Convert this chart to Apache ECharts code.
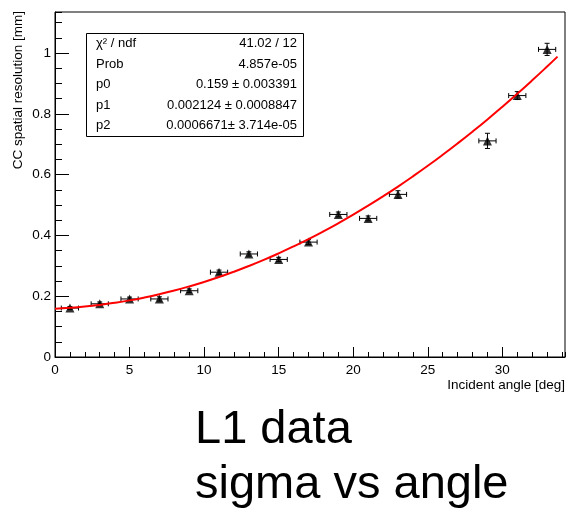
<!DOCTYPE html>
<html>
<head>
<meta charset="utf-8">
<script src="https://cdn.jsdelivr.net/npm/echarts@6/dist/echarts.min.js"></script>
<style>html,body{margin:0;padding:0;background:#fff;}#c{width:569px;height:514px;}</style>
</head>
<body>
<div id="c"></div>
<script>
// Data
var angles = [1, 3, 5, 7, 9, 11, 13, 15, 17, 19, 21, 23, 29, 31, 33];
var sigma = [0.161, 0.175, 0.191, 0.191, 0.218, 0.279, 0.339, 0.321, 0.378, 0.469, 0.456, 0.535, 0.711, 0.860, 1.012];
var angleErr = [0.577, 0.577, 0.577, 0.577, 0.577, 0.577, 0.577, 0.577, 0.577, 0.577, 0.577, 0.577, 0.577, 0.577, 0.577];
var sigmaErr = [0.005, 0.006, 0.006, 0.007, 0.006, 0.007, 0.007, 0.007, 0.008, 0.008, 0.008, 0.012, 0.025, 0.013, 0.020];

// Fit curve, sampled along the red line in the picture
var fitX = [0, 1, 2, 3, 4, 5, 6, 7, 8, 9, 10, 11, 12, 13, 14, 15, 16, 17, 18, 19, 20, 21, 22, 23, 24, 25, 26, 27, 28, 29, 30, 31, 32, 33, 33.7];
var fitY = [0.1590, 0.1618, 0.1659, 0.1714, 0.1782, 0.1863, 0.1958, 0.2066, 0.2187, 0.2322, 0.2470, 0.2631, 0.2806, 0.2994, 0.3195, 0.3410, 0.3638, 0.3879, 0.4134, 0.4402, 0.4683, 0.4978, 0.5286, 0.5607, 0.5942, 0.6290, 0.6652, 0.7027, 0.7415, 0.7816, 0.8231, 0.8659, 0.9101, 0.9556, 0.9882];

// Stats box text
var statNames = ['\u03c7\u00b2 / ndf', 'Prob', 'p0', 'p1', 'p2'];
var statValues = ['41.02 / 12', '4.857e-05', '0.159 \u00b1 0.003391', '0.002124 \u00b1 0.0008847', '0.0006671\u00b1 3.714e-05'];

var xTitle = 'Incident angle [deg]';
var yTitle = 'CC spatial resolution [mm]';
var caption = ['L1 data', 'sigma vs angle'];

var FONT = '"Liberation Sans", Arial, Helvetica, sans-serif';

var points = angles.map(function (a, i) { return [a, sigma[i]]; });
var errData = angles.map(function (a, i) { return [a, sigma[i], angleErr[i], sigmaErr[i]]; });
var fitData = fitX.map(function (x, i) { return [x, fitY[i]]; });

var chart = echarts.init(document.getElementById('c'), null, { renderer: 'canvas' });

var graphics = [];
// Stats box
var boxL = 86, boxT = 33, boxR = 303, boxB = 136;
graphics.push({
  type: 'rect', shape: { x: boxL + 0.5, y: boxT + 0.5, width: boxR - boxL, height: boxB - boxT },
  style: { fill: '#fff', stroke: '#000', lineWidth: 1 }, z: 100
});
var rowY = [43.5, 64, 84.5, 105, 125.5];
statNames.forEach(function (n, i) {
  graphics.push({ type: 'text', x: boxL + 10, y: rowY[i], z: 101,
    style: { text: n, font: '13px ' + FONT, fill: '#000', align: 'left', verticalAlign: 'middle' } });
  graphics.push({ type: 'text', x: boxR - 6, y: rowY[i], z: 101,
    style: { text: statValues[i], font: '13px ' + FONT, fill: '#000', align: 'right', verticalAlign: 'middle' } });
});
// Axis titles
graphics.push({ type: 'text', x: 565, y: 385, style: { text: xTitle, font: '13.5px ' + FONT, fill: '#000', align: 'right', verticalAlign: 'middle' } });
graphics.push({ type: 'text', x: 18, y: 11, rotation: Math.PI / 2,
  style: { text: yTitle, font: '13.5px ' + FONT, fill: '#000', align: 'right', verticalAlign: 'middle' } });
// Caption
graphics.push({ type: 'text', x: 195, y: 430, style: { text: caption[0], font: '47px ' + FONT, fill: '#000', align: 'left', verticalAlign: 'middle' } });
graphics.push({ type: 'text', x: 195, y: 485, style: { text: caption[1], font: '47px ' + FONT, fill: '#000', align: 'left', verticalAlign: 'middle' } });

var option = {
  animation: false,
  backgroundColor: '#fff',
  grid: { left: 55, right: 4, top: 12, bottom: 157, show: true, borderColor: '#000', borderWidth: 1, backgroundColor: 'transparent' },
  xAxis: [{
    type: 'value', min: 0, max: 34.2, interval: 5, position: 'bottom',
    axisLine: { show: true, lineStyle: { color: '#000', width: 1 } },
    axisTick: { show: true, inside: true, length: 10, lineStyle: { color: '#000' } },
    axisLabel: { show: true, color: '#000', fontSize: 13.5, fontFamily: FONT, margin: 6, showMaxLabel: false },
    splitLine: { show: false }
  }, {
    type: 'value', min: 0, max: 34.2, interval: 1, position: 'bottom',
    axisLine: { show: false },
    axisTick: { show: true, inside: true, length: 5, lineStyle: { color: '#000' } },
    axisLabel: { show: false },
    splitLine: { show: false }
  }],
  yAxis: [{
    type: 'value', min: 0, max: 1.135, interval: 0.2, position: 'left',
    axisLine: { show: true, lineStyle: { color: '#000', width: 1 } },
    axisTick: { show: true, inside: true, length: 14, lineStyle: { color: '#000' } },
    axisLabel: { show: true, color: '#000', fontSize: 13.5, fontFamily: FONT, margin: 4, showMaxLabel: false },
    splitLine: { show: false }
  }, {
    type: 'value', min: 0, max: 1.135, interval: 0.05, position: 'left',
    axisLine: { show: false },
    axisTick: { show: true, inside: true, length: 7, lineStyle: { color: '#000' } },
    axisLabel: { show: false },
    splitLine: { show: false }
  }],
  series: [{
    type: 'custom',
    name: 'errors',
    data: errData,
    z: 3,
    renderItem: function (params, api) {
      var x = api.value(0), y = api.value(1), xe = api.value(2), ye = api.value(3);
      var c = api.coord([x, y]);
      var l = api.coord([x - xe, y]);
      var r = api.coord([x + xe, y]);
      var t = api.coord([x, y + ye]);
      var b = api.coord([x, y - ye]);
      var st = { stroke: '#000', lineWidth: 1 };
      var cap = 2.5;
      var ch = [
        { type: 'line', shape: { x1: l[0], y1: c[1], x2: r[0], y2: c[1] }, style: st },
        { type: 'line', shape: { x1: l[0], y1: c[1] - cap, x2: l[0], y2: c[1] + cap }, style: st },
        { type: 'line', shape: { x1: r[0], y1: c[1] - cap, x2: r[0], y2: c[1] + cap }, style: st }
      ];
      if (Math.abs(b[1] - t[1]) > 1) {
        ch.push({ type: 'line', shape: { x1: c[0], y1: t[1], x2: c[0], y2: b[1] }, style: st });
        ch.push({ type: 'line', shape: { x1: c[0] - cap, y1: t[1], x2: c[0] + cap, y2: t[1] }, style: st });
        ch.push({ type: 'line', shape: { x1: c[0] - cap, y1: b[1], x2: c[0] + cap, y2: b[1] }, style: st });
      }
      return { type: 'group', children: ch };
    }
  }, {
    type: 'scatter',
    name: 'data',
    data: points,
    symbol: 'triangle',
    symbolSize: 9,
    itemStyle: { color: '#000' },
    z: 4
  }, {
    type: 'line',
    name: 'fit',
    data: fitData,
    smooth: true,
    showSymbol: false,
    lineStyle: { color: '#ff0000', width: 2 },
    z: 5
  }],
  graphic: graphics
};
chart.setOption(option);
</script>
</body>
</html>
